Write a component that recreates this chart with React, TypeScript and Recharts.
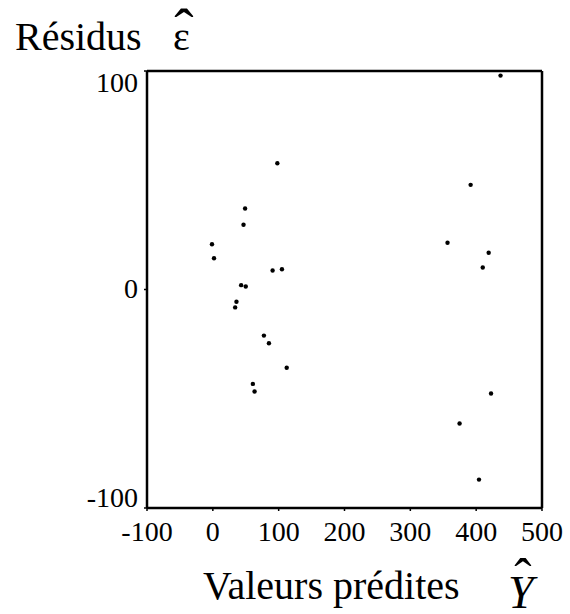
import { ScatterChart, Scatter, XAxis, YAxis, ReferenceLine } from 'recharts';

// valeurs prédites (Y chapeau) et résidus (epsilon chapeau)
const predicted = [98, 49, 46.6, -1.3, 1.8, 90.8, 105, 43, 50, 35.9, 33.9, 77.6, 85.2, 112.2, 60.8, 63.4, 437, 391.6, 356.5, 419, 410, 422.6, 374.8, 404.3];
const residuals = [57.8, 37.1, 29.6, 20.7, 14.3, 8.7, 9.3, 2.0, 1.4, -5.6, -8.2, -21.1, -24.6, -35.8, -43.2, -46.7, 97.9, 47.9, 21.4, 16.8, 10.1, -47.6, -61.3, -87.0];

const xTicks = [-100, 0, 100, 200, 300, 400, 500];
const yTicks = [-100, 0, 100];
const xMinorTicks = Array.from({ length: 61 }, (_, i) => -100 + i * 10);
const yMinorTicks = Array.from({ length: 21 }, (_, i) => -100 + i * 10);

const points = predicted.map((x, i) => ({ x, y: residuals[i] }));

const serif = "'Liberation Serif', 'Times New Roman', serif";

// labels of the y axis are pulled inside the frame at both ends
const yLabelShift: Record<number, number> = { 100: 21, 0: 8, '-100': -1 };

function YTick(props: any) {
  const { x, y, payload } = props;
  const dy = yLabelShift[payload.value] ?? 8;
  return (
    <text x={x} y={y + dy} textAnchor="end" style={{ fontFamily: serif }} fontSize={28} fill="#000">
      {payload.value}
    </text>
  );
}

function XTick(props: any) {
  const { x, y, payload } = props;
  return (
    <text x={x} y={y + 28} textAnchor="middle" style={{ fontFamily: serif }} fontSize={28} fill="#000">
      {payload.value}
    </text>
  );
}

const Dot = (props: any) => <circle cx={props.cx} cy={props.cy} r={2.2} fill="#000" />;

export default function App() {
  return (
    <div style={{ position: 'absolute', left: 0, top: 0, width: 570, height: 614, background: '#fff' }}>
      <ScatterChart width={570} height={614} margin={{ top: 71, right: 28, left: 87, bottom: 66 }}>
        <XAxis
          xAxisId="minor"
          type="number"
          dataKey="x"
          domain={[-100, 500]}
          ticks={xMinorTicks}
          tick={false}
          tickSize={2}
          height={0}
          axisLine={false}
          tickLine={{ stroke: '#000', strokeWidth: 1 }}
          allowDataOverflow
        />
        <XAxis
          xAxisId="x"
          type="number"
          dataKey="x"
          domain={[-100, 500]}
          ticks={xTicks}
          tick={<XTick />}
          tickSize={3}
          height={40}
          axisLine={{ stroke: '#000', strokeWidth: 2.5 }}
          tickLine={{ stroke: '#000', strokeWidth: 1.5 }}
          allowDataOverflow
        />
        <YAxis
          yAxisId="minor"
          type="number"
          dataKey="y"
          domain={[-100, 100]}
          ticks={yMinorTicks}
          tick={false}
          tickSize={2}
          width={0}
          axisLine={false}
          tickLine={{ stroke: '#000', strokeWidth: 1 }}
          allowDataOverflow
        />
        <YAxis
          yAxisId="y"
          type="number"
          dataKey="y"
          domain={[-100, 100]}
          ticks={yTicks}
          tick={<YTick />}
          tickSize={3}
          tickMargin={6}
          width={60}
          axisLine={{ stroke: '#000', strokeWidth: 2.5 }}
          tickLine={{ stroke: '#000', strokeWidth: 1.5 }}
          allowDataOverflow
        />
        <ReferenceLine xAxisId="x" yAxisId="y" y={100} stroke="#000" strokeWidth={2.5} />
        <ReferenceLine xAxisId="x" yAxisId="y" x={500} stroke="#000" strokeWidth={2.5} />
        <Scatter xAxisId="x" yAxisId="y" data={points} shape={<Dot />} isAnimationActive={false} />
      </ScatterChart>
      <svg width={570} height={614} style={{ position: 'absolute', left: 0, top: 0, pointerEvents: 'none', fontFamily: serif }}>
        <g fill="#000">
          <text x={15} y={50} fontSize={40}>Résidus</text>
          <text x={173} y={50} fontSize={40}>ε</text>
          <text x={184} y={48} fontSize={58} textAnchor="middle">ˆ</text>
          <text x={203} y={599} fontSize={40}>Valeurs prédites</text>
          <text x={508} y={608} fontSize={46} fontStyle="italic">Y</text>
          <text x={523} y={595} fontSize={52} textAnchor="middle">ˆ</text>
        </g>
      </svg>
    </div>
  );
}
